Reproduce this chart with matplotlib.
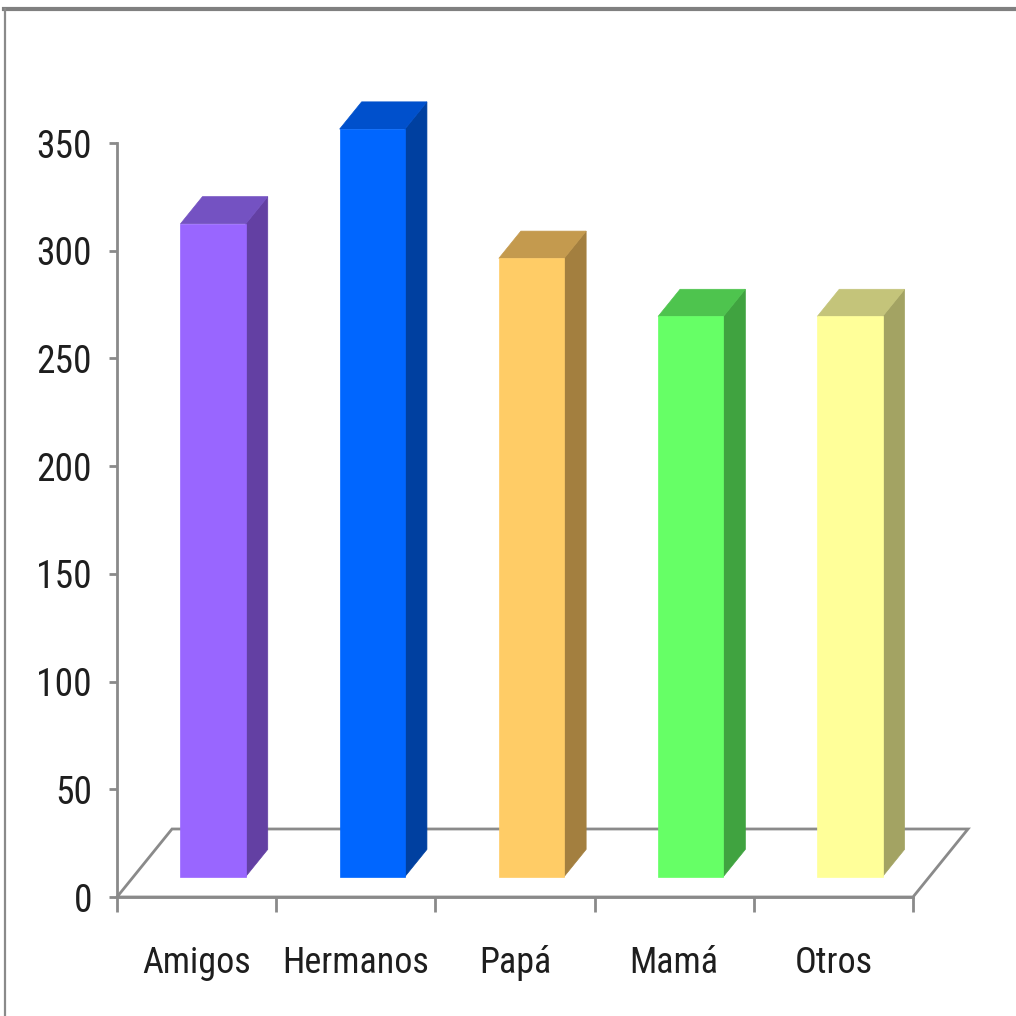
import matplotlib
matplotlib.use("Agg")
import matplotlib.pyplot as plt
from matplotlib import font_manager as fm
from matplotlib.patches import Polygon
from matplotlib.lines import Line2D

# Data
categories = ["Amigos", "Hermanos", "Papá", "Mamá", "Otros"]
values = [303, 347, 287, 260, 260]
y_ticks = [0, 50, 100, 150, 200, 250, 300, 350]

front_colors = ["#9966FF", "#0066FF", "#FFCC66", "#66FF66", "#FFFF99"]
top_colors = ["#7452C2", "#0050CC", "#C49A4E", "#4EC44E", "#C4C47A"]
side_colors = ["#6340A3", "#0040A0", "#A37F3F", "#40A340", "#A3A363"]

GRID_GRAY = "#8A8A8A"
TEXT_COLOR = "#1E1E1E"


def narrow_font_file():
    """Return the path of a narrow sans-serif face if one is installed."""
    entries = fm.fontManager.ttflist

    def regular(f):
        return f.style == "normal" and f.weight in (400, "normal", "regular", "book")

    for name in ("Liberation Sans Narrow", "Roboto Condensed", "Open Sans Condensed",
                 "DejaVu Sans Condensed", "Noto Sans Condensed"):
        for f in entries:
            if f.name == name and regular(f):
                return f.fname
    for f in entries:
        if ("Narrow" in f.name or "Condensed" in f.name) and regular(f):
            return f.fname
    for f in entries:
        if f.stretch in ("condensed", "semi-condensed", "extra-condensed") and regular(f) \
                and "Mono" not in f.name and "Serif" not in f.name:
            return f.fname
    return None


path = narrow_font_file()
if path:
    ylab_font = fm.FontProperties(fname=path, size=27)
    xlab_font = fm.FontProperties(fname=path, size=26)
else:
    ylab_font = fm.FontProperties(family="Lato", size=25)
    xlab_font = fm.FontProperties(family="Lato", size=25)

fig = plt.figure(figsize=(10.16, 10.16), dpi=100)
fig.patch.set_facecolor("white")

# Outer frame (top and left edges)
fig.add_artist(Line2D([4 / 1016, 1.0], [1 - 9 / 1016] * 2, color="#808080",
                      lw=3.0, transform=fig.transFigure))
fig.add_artist(Line2D([5 / 1016] * 2, [0.0, 1 - 9 / 1016], color="#8A8A8A",
                      lw=1.6, transform=fig.transFigure))

ax = fig.add_axes([117 / 1016, 1 - 897 / 1016, 796 / 1016, 754 / 1016])
n = len(categories)
ax.set_xlim(0, n)
ax.set_ylim(0, 350)

# Oblique depth projection: full floor depth in data units
DX, DY = 0.3455, 31.57


def proj(x, y, d):
    return (x + d * DX, y + d * DY)


# Floor outline
floor = [proj(0, 0, 0), proj(n, 0, 0), proj(n, 0, 1), proj(0, 0, 1)]
ax.add_patch(Polygon(floor, closed=True, facecolor="white", edgecolor=GRID_GRAY,
                     lw=2.0, zorder=1, clip_on=False))

# 3D columns
w, d0, d1 = 0.41, 0.3, 0.7
for i, v in enumerate(values):
    c = i + 0.5
    xl, xr = c - w / 2, c + w / 2
    front = [proj(xl, 0, d0), proj(xr, 0, d0), proj(xr, v, d0), proj(xl, v, d0)]
    top = [proj(xl, v, d0), proj(xr, v, d0), proj(xr, v, d1), proj(xl, v, d1)]
    side = [proj(xr, 0, d0), proj(xr, 0, d1), proj(xr, v, d1), proj(xr, v, d0)]
    for poly, col in ((side, side_colors[i]), (top, top_colors[i]), (front, front_colors[i])):
        ax.add_patch(Polygon(poly, closed=True, facecolor=col, edgecolor=col,
                             lw=0.5, zorder=3, clip_on=False))

# Axes styling
for s in ("top", "right"):
    ax.spines[s].set_visible(False)
for s in ("left", "bottom"):
    ax.spines[s].set_color(GRID_GRAY)
    ax.spines[s].set_linewidth(2.0)
    ax.spines[s].set_zorder(2)

ax.set_yticks(y_ticks)
ax.set_yticklabels([str(t) for t in y_ticks], fontproperties=ylab_font, color=TEXT_COLOR)
ax.tick_params(axis="y", direction="out", length=6, width=2.0, color=GRID_GRAY, pad=12)

ax.set_xticks(range(n + 1))
ax.set_xticklabels([])
ax.tick_params(axis="x", which="major", direction="out", length=11, width=2.0,
               color=GRID_GRAY)
ax.set_xticks([i + 0.5 for i in range(n)], minor=True)
ax.set_xticklabels(categories, minor=True, fontproperties=xlab_font, color=TEXT_COLOR,
                   va="baseline")
ax.tick_params(axis="x", which="minor", length=0, pad=55)

ax.set_facecolor("none")

fig.savefig("out.png", dpi=100, facecolor="white")
